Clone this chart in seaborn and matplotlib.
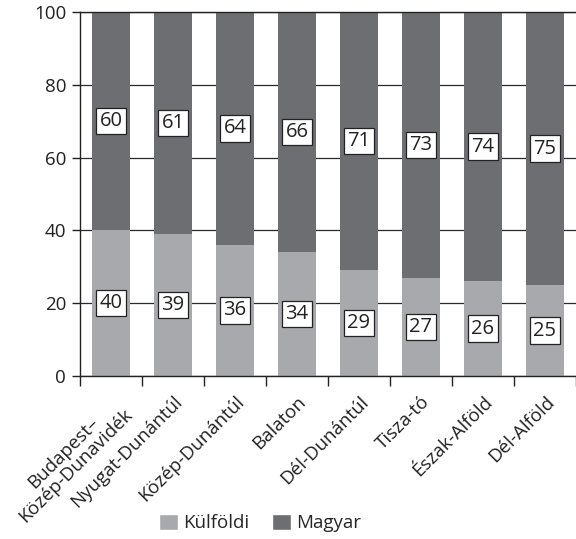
import matplotlib
matplotlib.use('Agg')
import matplotlib.pyplot as plt
import seaborn as sns
import pandas as pd
import numpy as np
from matplotlib.patches import Patch

regions = ['Budapest–\nKözép-Dunavidék', 'Nyugat-Dunántúl', 'Közép-Dunántúl', 'Balaton',
           'Dél-Dunántúl', 'Tisza-tó', 'Észak-Alföld', 'Dél-Alföld']
kulfoldi = [40, 39, 36, 34, 29, 27, 26, 25]
magyar = [60, 61, 64, 66, 71, 73, 74, 75]

c_kulf = '#a7a9ac'
c_magy = '#6d6e71'

sns.set_style('white')
plt.rcParams['font.family'] = ['Open Sans', 'DejaVu Sans']

df = pd.DataFrame({'region': regions, 'Külföldi': kulfoldi, 'Magyar': magyar})
df['total'] = df['Külföldi'] + df['Magyar']

fig = plt.figure(figsize=(5.76, 5.39), dpi=100)
ax = fig.add_axes([80 / 576, 1 - 376 / 539, 1 - 80 / 576, (376 - 12) / 539])

# gridlines behind the stacked bars
ax.set_axisbelow(True)
ax.yaxis.grid(True, color='#2a2a2a', linewidth=0.9)
sns.barplot(data=df, x='region', y='total', color=c_magy, width=0.61,
            saturation=1, ax=ax, edgecolor='none')
sns.barplot(data=df, x='region', y='Külföldi', color=c_kulf, width=0.61,
            saturation=1, ax=ax, edgecolor='none')

box = dict(boxstyle='square,pad=0.16', facecolor='white', edgecolor='#222222', linewidth=0.9)
for i, (k, m) in enumerate(zip(kulfoldi, magyar)):
    ax.text(i, k / 2, str(k), ha='center', va='center', fontsize=14.5, bbox=box, color='#222222')
    ax.text(i, k + m / 2, str(m), ha='center', va='center', fontsize=14.5, bbox=box, color='#222222')

ax.set_xlim(-0.5, len(regions) - 0.5)
ax.set_ylim(0, 100)
ax.set_yticks([0, 20, 40, 60, 80, 100])
ax.set_xlabel('')
ax.set_ylabel('')
for s in ['left', 'bottom', 'top']:
    ax.spines[s].set_visible(True)
    ax.spines[s].set_color('#222222')
    ax.spines[s].set_linewidth(1.0)
ax.spines['right'].set_visible(False)

ax.tick_params(axis='y', which='major', left=True, length=6, width=1, color='#222222',
               labelsize=13.5, labelcolor='#222222', pad=4)
# ticks sit between the categories
ax.set_xticks(np.arange(len(regions)))
ax.set_xticks(np.arange(-0.5, len(regions) - 0.4, 1.0), minor=True)
ax.tick_params(axis='x', which='major', length=0, pad=12, labelsize=13.5, labelcolor='#222222')
ax.tick_params(axis='x', which='minor', bottom=True, length=7, width=1, color='#222222')
ax.set_xticklabels(regions, rotation=45, ha='right', va='top', rotation_mode='anchor',
                   multialignment='center', linespacing=1.0)

handles = [Patch(facecolor=c_kulf, label='Külföldi'), Patch(facecolor=c_magy, label='Magyar')]
fig.legend(handles=handles, loc='center', bbox_to_anchor=(260 / 576, 1 - 523 / 539),
           ncol=2, frameon=False, fontsize=13.5, handlelength=1.0, handleheight=1.0,
           handletextpad=0.3, columnspacing=1.2)

fig.savefig('out.png', dpi=100)
